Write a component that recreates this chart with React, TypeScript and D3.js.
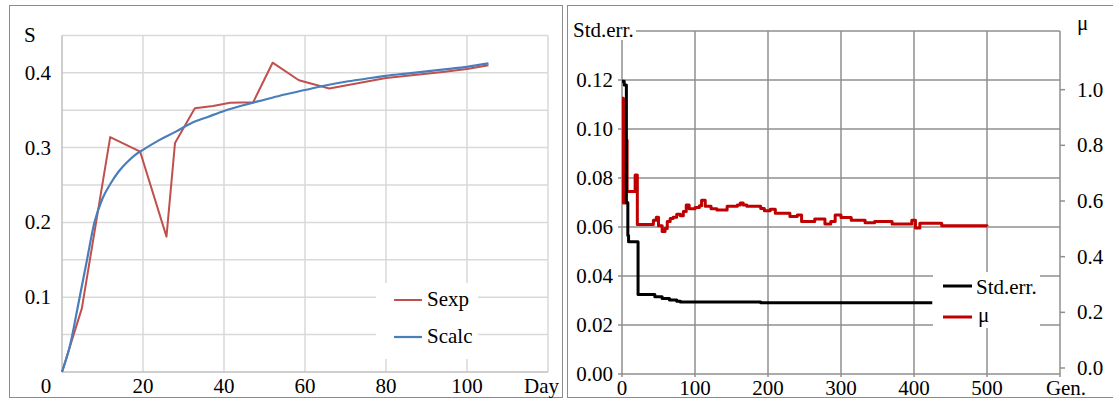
import * as d3 from 'd3';
import { useEffect } from 'react';

// left chart: S vs Day
const sexpDay = [0, 4.9, 11.9, 19.3, 25.8, 27.9, 32.8, 37.3, 41.5, 47.2, 52, 58.5, 66, 73, 80, 87, 94, 100, 105.3];
const sexpVal = [0, 0.085, 0.314, 0.2945, 0.181, 0.306, 0.3525, 0.3556, 0.36, 0.3605, 0.4135, 0.39, 0.379, 0.386, 0.393, 0.397, 0.401, 0.405, 0.41];
const scalcDay = [0, 2, 4, 6, 8, 10, 12, 14, 16, 18, 20, 24, 28, 32, 36, 40, 45, 50, 55, 60, 65, 70, 75, 80, 85, 90, 95, 100, 105.3];
const scalcVal = [0, 0.036, 0.09, 0.145, 0.2, 0.232, 0.252, 0.268, 0.28, 0.29, 0.297, 0.31, 0.321, 0.333, 0.341, 0.349, 0.357, 0.364, 0.371, 0.377, 0.383, 0.388, 0.392, 0.396, 0.399, 0.402, 0.405, 0.408, 0.4125];
const dayTicks = [20, 40, 60, 80, 100];
const sTicks = [0.1, 0.2, 0.3, 0.4];

// right chart: Std.err. and mu vs generation
const stdGen = [0, 3, 6, 8, 9, 22, 40, 45, 55, 65, 75, 80, 190, 425];
const stdVal = [0.1195, 0.118, 0.07, 0.0565, 0.054, 0.0325, 0.0325, 0.0315, 0.0308, 0.0302, 0.0297, 0.0294, 0.0291, 0.0291];
const muGen = [0, 2, 5, 7, 18, 21, 43, 47, 50, 55, 59, 62, 66, 70, 75, 80, 84, 88, 92, 100, 106, 109, 114, 122, 130, 144, 158, 162, 166, 171, 190, 195, 203, 210, 230, 240, 246, 264, 278, 286, 292, 300, 314, 333, 346, 370, 397, 402, 408, 438, 500];
const muVal = [0.969, 0.593, 0.818, 0.634, 0.693, 0.516, 0.531, 0.542, 0.511, 0.49, 0.501, 0.526, 0.537, 0.542, 0.552, 0.547, 0.562, 0.586, 0.572, 0.577, 0.583, 0.603, 0.581, 0.572, 0.568, 0.581, 0.586, 0.593, 0.586, 0.581, 0.573, 0.565, 0.57, 0.556, 0.544, 0.55, 0.526, 0.535, 0.517, 0.526, 0.55, 0.541, 0.531, 0.522, 0.526, 0.517, 0.531, 0.503, 0.52, 0.511, 0.509];
const genTicks = [0, 100, 200, 300, 400, 500];
const errTicks = [0, 0.02, 0.04, 0.06, 0.08, 0.1, 0.12];
const muTicks = [0, 0.2, 0.4, 0.6, 0.8, 1.0];

const FONT = 'Liberation Serif';

function LeftChart() {
  const x = d3.scaleLinear().domain([0, 120]).range([62, 548]);
  const y = d3.scaleLinear().domain([0, 0.45]).range([372, 35.4]);
  const line = d3.line<[number, number]>().x((d) => x(d[0])).y((d) => y(d[1]));
  const sexp = sexpDay.map((d, i) => [d, sexpVal[i]] as [number, number]);
  const scalc = scalcDay.map((d, i) => [d, scalcVal[i]] as [number, number]);
  const grid = '#d9d9d9';
  return (
    <g>
      <rect x={9.5} y={5.5} width={553} height={392} fill="#fff" stroke="#8c8c8c" />
      {d3.range(1, 10).map((i) => (
        <line key={'h' + i} x1={x(0)} x2={x(120)} y1={y(i * 0.05)} y2={y(i * 0.05)} stroke={grid} strokeWidth={1.5} />
      ))}
      {d3.range(1, 7).map((i) => (
        <line key={'v' + i} x1={x(i * 20)} x2={x(i * 20)} y1={y(0)} y2={y(0.45)} stroke={grid} strokeWidth={1.5} />
      ))}
      <line x1={x(0)} x2={x(0)} y1={y(0)} y2={y(0.45)} stroke="#bfbfbf" strokeWidth={1.5} />
      <line x1={x(0)} x2={x(120)} y1={y(0)} y2={y(0)} stroke="#bfbfbf" strokeWidth={1.5} />
      {sTicks.map((t) => (
        <text key={t} x={51} y={y(t) + 7} textAnchor="end" fontFamily={FONT} fontSize={21}>{t.toFixed(1)}</text>
      ))}
      <text x={24} y={42} fontFamily={FONT} fontSize={21}>S</text>
      <text x={x(0) - 16} y={393} textAnchor="middle" fontFamily={FONT} fontSize={21}>0</text>
      {dayTicks.map((t) => (
        <text key={t} x={x(t)} y={393} textAnchor="middle" fontFamily={FONT} fontSize={21}>{t}</text>
      ))}
      <text x={x(120) - 24} y={393} fontFamily={FONT} fontSize={21}>Day</text>
      <path d={line(sexp)!} fill="none" stroke="#c0504d" strokeWidth={2} strokeLinejoin="round" />
      <path d={line.curve(d3.curveMonotoneX)(scalc)!} fill="none" stroke="#4a7ebb" strokeWidth={2.2} />
      <rect x={376} y={283} width={102} height={76} fill="#fff" />
      <line x1={394} x2={422} y1={300} y2={300} stroke="#c0504d" strokeWidth={2} />
      <text x={427} y={306} fontFamily={FONT} fontSize={21}>Sexp</text>
      <line x1={394} x2={422} y1={337} y2={337} stroke="#4a7ebb" strokeWidth={2.2} />
      <text x={427} y={343} fontFamily={FONT} fontSize={21}>Scalc</text>
    </g>
  );
}

function RightChart() {
  const x = d3.scaleLinear().domain([0, 600]).range([622, 1060]);
  const y = d3.scaleLinear().domain([0, 0.14]).range([374, 31]);
  const yMu = d3.scaleLinear().domain([0, 1.2]).range([368, 34]);
  const std = stdGen.map((g, i) => [g, stdVal[i]] as [number, number]);
  const mu = muGen.map((g, i) => [g, muVal[i]] as [number, number]);
  const stdLine = d3.line<[number, number]>().x((d) => x(d[0])).y((d) => y(d[1])).curve(d3.curveStepAfter);
  const muLine = d3.line<[number, number]>().x((d) => x(d[0])).y((d) => yMu(d[1])).curve(d3.curveStepAfter);
  const grid = '#8f8f8f';
  return (
    <g>
      <rect x={567.5} y={5.5} width={560} height={392} fill="#fff" stroke="#8c8c8c" />
      {d3.range(0, 8).map((i) => (
        <line key={'h' + i} x1={x(0) - 4} x2={x(600)} y1={y(i * 0.02)} y2={y(i * 0.02)} stroke={grid} strokeWidth={1.5} />
      ))}
      {d3.range(0, 7).map((i) => (
        <line key={'v' + i} x1={x(i * 100)} x2={x(i * 100)} y1={y(0.14)} y2={y(0) + 3} stroke={grid} strokeWidth={1.5} />
      ))}
      {muTicks.map((t) => (
        <line key={'mt' + t} x1={x(600)} x2={x(600) + 5} y1={yMu(t)} y2={yMu(t)} stroke={grid} strokeWidth={1.5} />
      ))}
      <rect x={570} y={20} width={66} height={20} fill="#fff" />
      <text x={573} y={37} fontFamily={FONT} fontSize={21}>Std.err.</text>
      <text x={1077} y={30} fontFamily={FONT} fontSize={21}>μ</text>
      {errTicks.map((t) => (
        <text key={t} x={613} y={y(t) + 7} textAnchor="end" fontFamily={FONT} fontSize={21}>{t.toFixed(2)}</text>
      ))}
      {muTicks.map((t) => (
        <text key={t} x={1077} y={yMu(t) + 7} fontFamily={FONT} fontSize={21}>{t.toFixed(1)}</text>
      ))}
      {genTicks.map((t) => (
        <text key={t} x={x(t)} y={395} textAnchor="middle" fontFamily={FONT} fontSize={21}>{t}</text>
      ))}
      <text x={x(600) + 6} y={395} textAnchor="middle" fontFamily={FONT} fontSize={21}>Gen.</text>
      <path d={muLine(mu)!} fill="none" stroke="#c00000" strokeWidth={3} strokeLinejoin="round" />
      <path d={stdLine(std)!} fill="none" stroke="#000" strokeWidth={3} strokeLinejoin="round" />
      <rect x={933} y={272} width={107} height={56} fill="#fff" />
      <line x1={943} x2={972} y1={286} y2={286} stroke="#000" strokeWidth={3} />
      <text x={976} y={294} fontFamily={FONT} fontSize={21}>Std.err.</text>
      <line x1={943} x2={972} y1={317} y2={317} stroke="#c00000" strokeWidth={3} />
      <text x={978} y={322} fontFamily={FONT} fontSize={21}>μ</text>
    </g>
  );
}

export default function App() {
  useEffect(() => {
    document.body.style.margin = '0';
  }, []);
  return (
    <svg width={1113} height={399}>
      <LeftChart />
      <RightChart />
    </svg>
  );
}
